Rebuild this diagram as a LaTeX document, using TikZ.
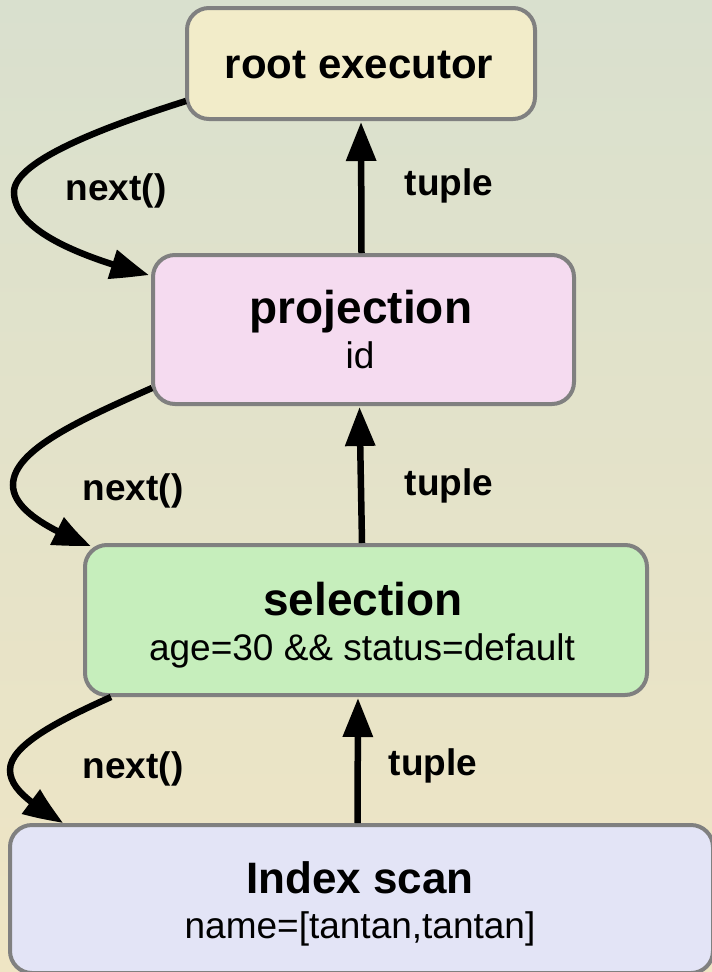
\documentclass[tikz,border=0pt]{standalone}
\usepackage{fontspec}
\setmainfont{Liberation Sans}
\usetikzlibrary{arrows.meta,bending}
\definecolor{bgtop}{HTML}{D9E0CE}
\definecolor{bgbot}{HTML}{EFE5C4}
\definecolor{boxedge}{HTML}{808080}
\definecolor{rootfill}{HTML}{F2ECC9}
\definecolor{projfill}{HTML}{F5DBF0}
\definecolor{selfill}{HTML}{C6EEBC}
\definecolor{scanfill}{HTML}{E3E4F6}
\begin{document}
\begin{tikzpicture}[x=1pt,y=-1pt,
  opbox/.style={draw=boxedge, line width=4pt, rounded corners=22pt, inner sep=0pt, anchor=north west},
  flow/.style={line width=6.5pt, shorten >=1pt, -{Triangle[length=39pt,width=29pt]}},
  callflow/.style={line width=6.5pt, -{Triangle[length=38pt,width=29pt,bend]}},
  title/.style={font=\bfseries\fontsize{46}{46}\selectfont, anchor=base, inner sep=0pt},
  detail/.style={font=\fontsize{37}{37}\selectfont, anchor=base, inner sep=0pt},
  edgelabel/.style={font=\bfseries\fontsize{37}{37}\selectfont, anchor=base, inner sep=0pt}]
  % page background
  \useasboundingbox (0,0) rectangle (712,972);
  \shade[top color=bgtop, bottom color=bgbot] (0,0) rectangle (712,972);

  % operator boxes
  \node[opbox, fill=rootfill, minimum width=348pt, minimum height=111pt] (root) at (185,6) {};
  \node[opbox, fill=projfill, minimum width=421pt, minimum height=149pt] (proj) at (151,253) {};
  \node[opbox, fill=selfill, minimum width=562pt, minimum height=150pt] (sel) at (83,543) {};
  \node[opbox, fill=scanfill, minimum width=703pt, minimum height=148pt] (scan) at (8,823) {};

  % box texts
  \node[title, font=\bfseries\fontsize{42}{42}\selectfont] (rootT) at (359,78) {root executor};
  \node[title] (projT) at (361,323) {projection};
  \node[detail] (projD) at (360,368) {id};
  \node[title] (selT) at (363,615) {selection};
  \node[detail] (selD) at (362,660) {age=30 \&\& status=default};
  \node[title, font=\bfseries\fontsize{44}{44}\selectfont] (scanT) at (360,893) {Index scan};
  \node[detail] (scanD) at (360,938) {name=[tantan,tantan]};

  % tuples flow upwards
  \draw[flow] ([xshift=-2pt]proj.north) -- ([xshift=0pt]root.south);
  \draw[flow] ([xshift=-4pt]sel.north) -- ([xshift=-4pt]proj.south);
  \draw[flow] ([xshift=-4pt]scan.north) -- ([xshift=-8pt]sel.south);

  % next() calls go downwards
  \draw[callflow] ([shift={(1,-20)}]root.south west)
      .. controls (110,125) and (14,160) .. (14,192)
      .. controls (14,232) and (85,258) .. ([shift={(-2,22)}]proj.north west);
  \draw[callflow] ([shift={(1,-18)}]proj.south west)
      .. controls (80,420) and (13,450) .. (13,485)
      .. controls (13,510) and (50,530) .. ([shift={(8,3)}]sel.north west);
  \draw[callflow] ([shift={(28,0)}]sel.south west)
      .. controls (60,720) and (10,745) .. (10,770)
      .. controls (10,792) and (40,808) .. ([shift={(55,0)}]scan.north west);

  % edge labels
  \node[edgelabel] (call1) at (116,200) {next()};
  \node[edgelabel] (call2) at (133,500) {next()};
  \node[edgelabel] (call3) at (133,778) {next()};
  \node[edgelabel] (ret1) at (449,195) {tuple};
  \node[edgelabel] (ret2) at (449,495) {tuple};
  \node[edgelabel] (ret3) at (433,775) {tuple};
\end{tikzpicture}
\end{document}
